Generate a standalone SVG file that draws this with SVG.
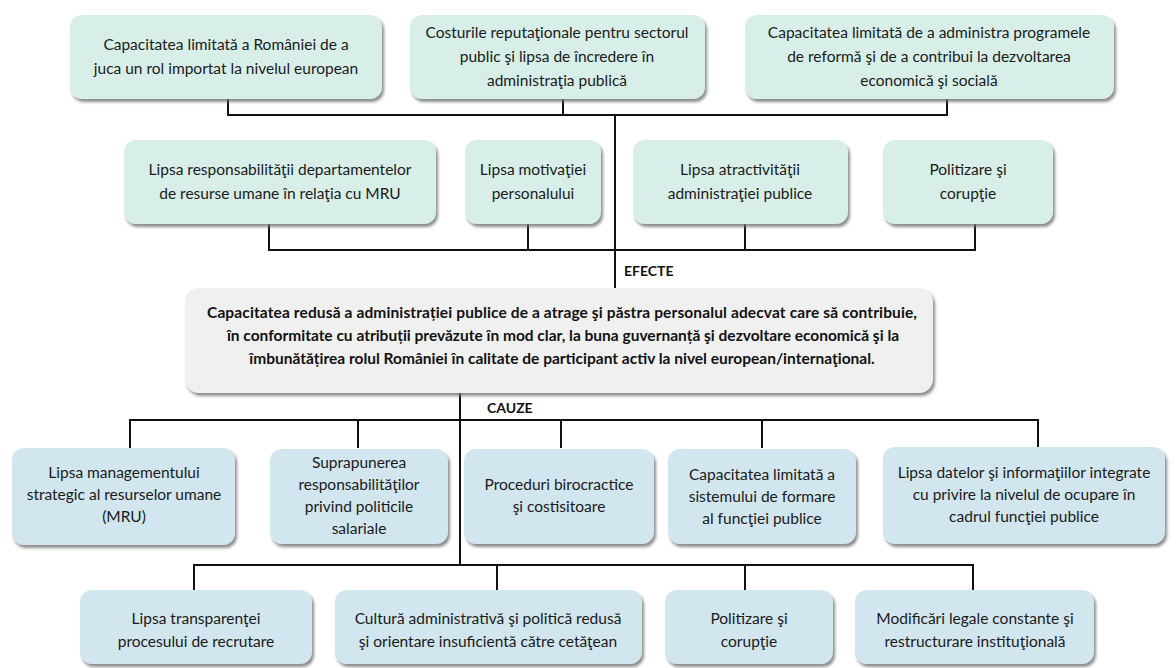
<svg xmlns="http://www.w3.org/2000/svg" width="1176" height="668" viewBox="0 0 1176 668">
<defs>
<filter id="sh" x="-10%" y="-10%" width="125%" height="140%">
<feDropShadow dx="2" dy="3" stdDeviation="1.6" flood-color="#707070" flood-opacity="0.8"/>
</filter>
<style>
.box{filter:url(#sh);}
.mint{fill:#d8efe9;}
.blue{fill:#d1e6ef;}
.grey{fill:#f0f0f0;}
text{font-family:Lato,"Liberation Sans",sans-serif;font-size:15.5px;fill:#1a1a1a;text-anchor:middle;}
.b{font-weight:bold;fill:#111;}
.lbl{font-weight:bold;font-size:14px;text-anchor:start;fill:#111;}
.ln{stroke:#111;stroke-width:2;fill:none;}
</style>
</defs>
<rect width="1176" height="668" fill="#ffffff"/>

<g id="connectors">
<path class="ln" d="M228 99V115M563 99V115M947 99V115M227 115H948M615 115V288"/>
<path class="ln" d="M269 224V250M528 224V250M745 224V250M975 224V250M268 250H976"/>
<path class="ln" d="M460 393V565M129 420H1039M130 420V448M358 420V448M561 420V448M762 420V448M1038 420V448"/>
<path class="ln" d="M193 565H974M194 565V590M497 565V590M745 565V590M973 565V590"/>
</g>

<g id="t1"><rect class="box mint" x="70" y="15" width="312" height="84" rx="12"/>
<text x="226" y="50">Capacitatea limitată a României de a</text>
<text x="226" y="74">juca un rol importat la nivelul european</text></g>

<g id="t2"><rect class="box mint" x="410" y="15" width="295" height="84" rx="12"/>
<text x="557" y="38">Costurile reputaţionale pentru sectorul</text>
<text x="557" y="62">public şi lipsa de încredere în</text>
<text x="557" y="86">administraţia publică</text></g>

<g id="t3"><rect class="box mint" x="745" y="15" width="369" height="84" rx="12"/>
<text x="929" y="38">Capacitatea limitată de a administra programele</text>
<text x="929" y="62">de reformă şi de a contribui la dezvoltarea</text>
<text x="929" y="86">economică şi socială</text></g>

<g id="s1"><rect class="box mint" x="124" y="140" width="312" height="84" rx="12"/>
<text x="280" y="175">Lipsa responsabilităţii departamentelor</text>
<text x="280" y="199">de resurse umane în relaţia cu MRU</text></g>

<g id="s2"><rect class="box mint" x="465" y="140" width="136" height="84" rx="12"/>
<text x="533" y="175">Lipsa motivaţiei</text>
<text x="533" y="199">personalului</text></g>

<g id="s3"><rect class="box mint" x="633" y="140" width="215" height="84" rx="12"/>
<text x="740" y="175">Lipsa atractivităţii</text>
<text x="740" y="199">administraţiei publice</text></g>

<g id="s4"><rect class="box mint" x="883" y="140" width="170" height="84" rx="12"/>
<text x="968" y="175">Politizare şi</text>
<text x="968" y="199">corupţie</text></g>

<g id="efecte"><text class="lbl" x="624" y="276">EFECTE</text></g>

<g id="central"><rect class="box grey" x="185" y="288" width="748" height="105" rx="14"/>
<text class="b" x="562" y="318" textLength="710" lengthAdjust="spacing">Capacitatea redusă a administrației publice de a atrage şi păstra personalul adecvat care să contribuie,</text>
<text class="b" x="563" y="341">în conformitate cu atribuții prevăzute în mod clar, la buna guvernanță şi dezvoltare economică şi la</text>
<text class="b" x="562" y="364">îmbunătățirea rolul României în calitate de participant activ la nivel european/internaţional.</text></g>

<g id="cauze"><text class="lbl" x="487" y="413">CAUZE</text></g>

<g id="c1"><rect class="box blue" x="12" y="448" width="223" height="97" rx="12"/>
<text x="124" y="478">Lipsa managementului</text>
<text x="124" y="500">strategic al resurselor umane</text>
<text x="124" y="522">(MRU)</text></g>

<g id="c2"><rect class="box blue" x="270" y="449" width="178" height="95" rx="12"/>
<text x="359" y="468">Suprapunerea</text>
<text x="359" y="490">responsabilităţilor</text>
<text x="359" y="512">privind politicile</text>
<text x="359" y="534">salariale</text></g>

<g id="c3"><rect class="box blue" x="464" y="449" width="190" height="95" rx="12"/>
<text x="559" y="490">Proceduri birocractice</text>
<text x="559" y="512">şi costisitoare</text></g>

<g id="c4"><rect class="box blue" x="668" y="449" width="188" height="95" rx="12"/>
<text x="762" y="480">Capacitatea limitată a</text>
<text x="762" y="502">sistemului de formare</text>
<text x="762" y="524">al funcţiei publice</text></g>

<g id="c5"><rect class="box blue" x="883" y="447" width="282" height="97" rx="12"/>
<text x="1024" y="478">Lipsa datelor şi informaţiilor integrate</text>
<text x="1024" y="500">cu privire la nivelul de ocupare în</text>
<text x="1024" y="522">cadrul funcţiei publice</text></g>

<g id="b1"><rect class="box blue" x="80" y="590" width="232" height="74" rx="12"/>
<text x="196" y="624">Lipsa transparenţei</text>
<text x="196" y="647">procesului de recrutare</text></g>

<g id="b2"><rect class="box blue" x="335" y="590" width="307" height="74" rx="12"/>
<text x="488" y="624">Cultură administrativă şi politică redusă</text>
<text x="488" y="647">şi orientare insuficientă către cetăţean</text></g>

<g id="b3"><rect class="box blue" x="665" y="590" width="168" height="74" rx="12"/>
<text x="749" y="624">Politizare şi</text>
<text x="749" y="647">corupţie</text></g>

<g id="b4"><rect class="box blue" x="855" y="590" width="239" height="74" rx="12"/>
<text x="975" y="624">Modificări legale constante şi</text>
<text x="975" y="647">restructurare instituţională</text></g>
</svg>
